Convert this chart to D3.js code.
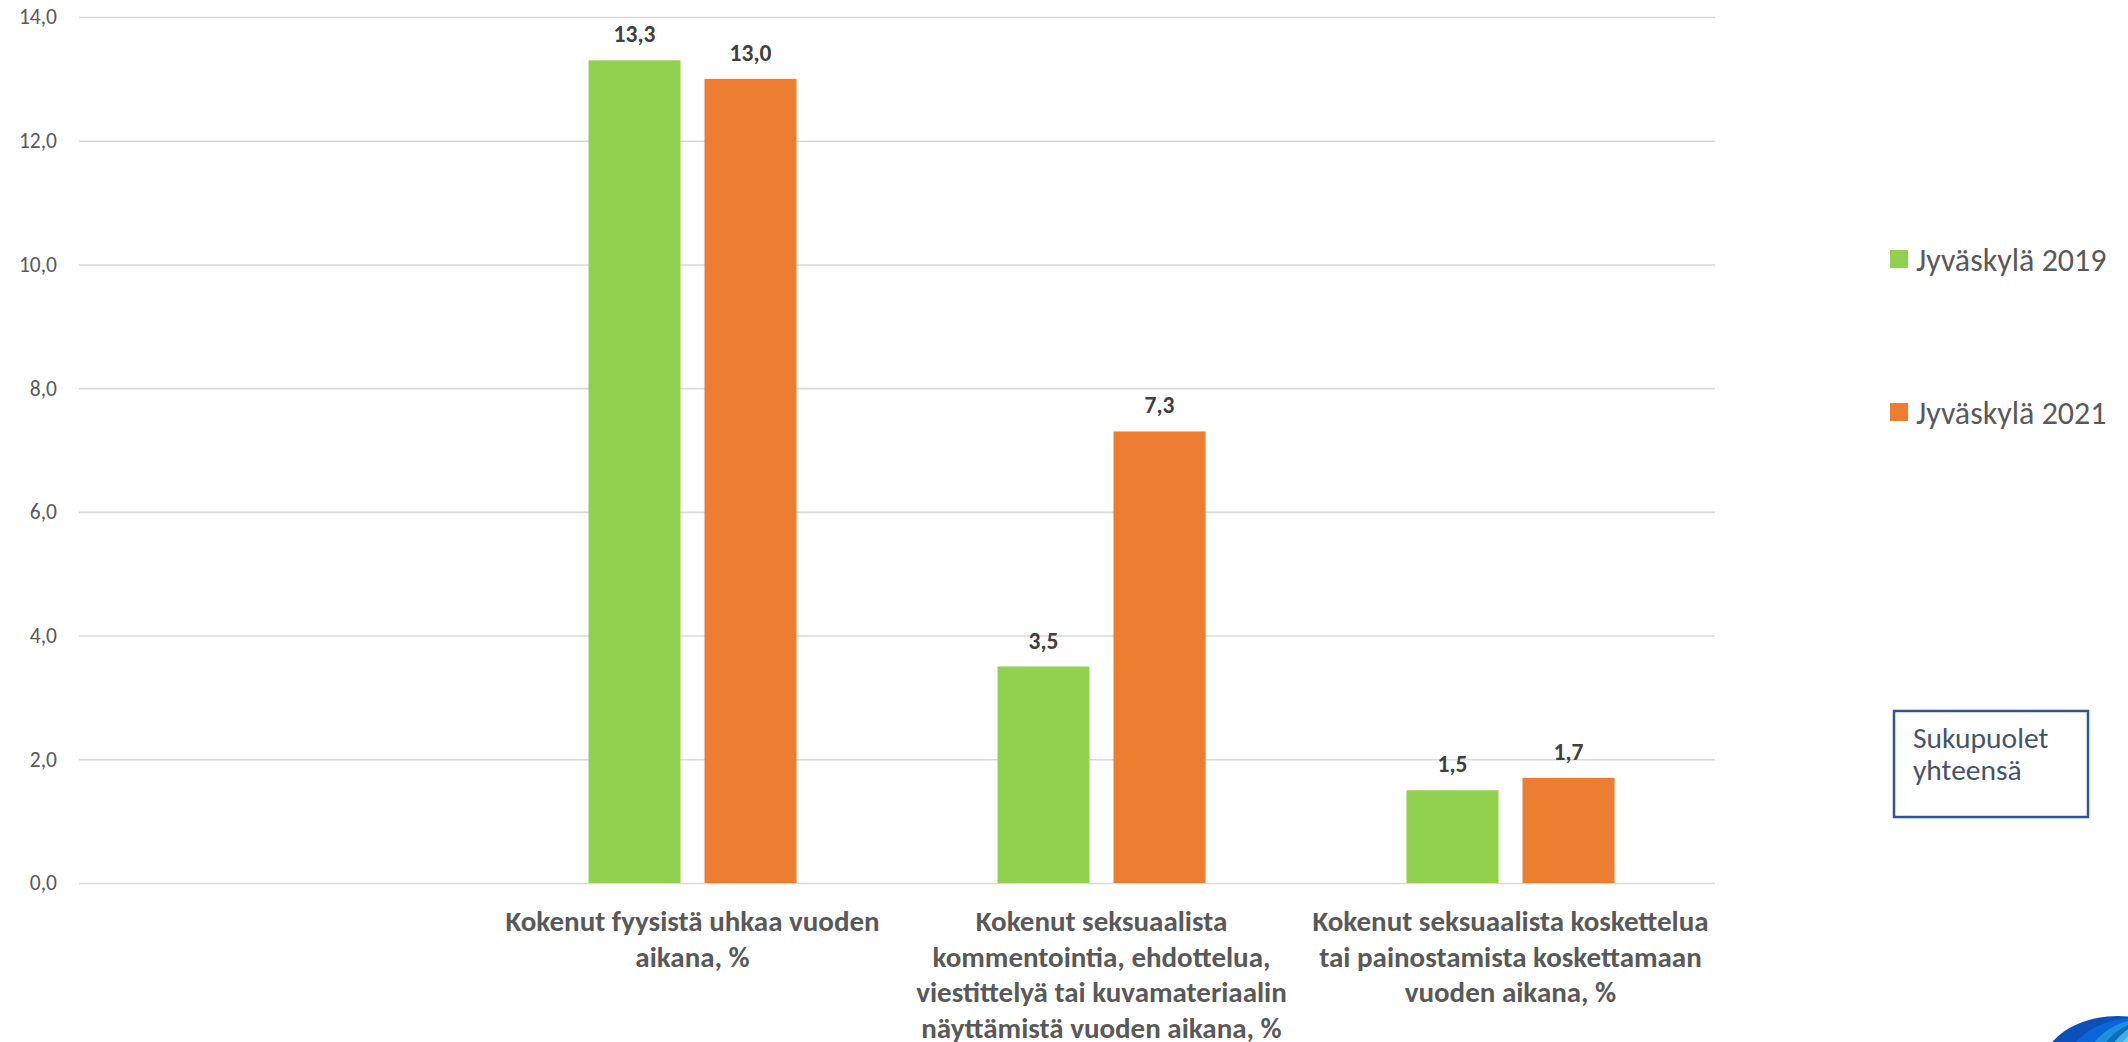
<!DOCTYPE html>
<html>
<head>
<meta charset="utf-8">
<script src="https://cdn.jsdelivr.net/npm/d3@7"></script>
<style>
  html, body { margin: 0; padding: 0; background: #ffffff; }
  svg { display: block; }
  text { font-family: Carlito, Calibri, Lato, "Open Sans", sans-serif; }
</style>
</head>
<body>
<svg id="chart" width="2128" height="1042"></svg>
<script>
// ---- data ----
const categories = [
  "",
  "Kokenut fyysistä uhkaa vuoden\naikana, %",
  "Kokenut seksuaalista\nkommentointia, ehdottelua,\nviestittelyä tai kuvamateriaalin\nnäyttämistä vuoden aikana, %",
  "Kokenut seksuaalista koskettelua\ntai painostamista koskettamaan\nvuoden aikana, %"
];
const seriesNames = ["Jyväskylä 2019", "Jyväskylä 2021"];
const values2019 = [null, 13.3, 3.5, 1.5];
const values2021 = [null, 13.0, 7.3, 1.7];
const yTicks = [0, 2, 4, 6, 8, 10, 12, 14];
const colors = ["#92D050", "#ED7D31"];
const noteLines = ["Sukupuolet", "yhteensä"];

const seriesValues = [values2019, values2021];

// ---- layout ----
const svg = d3.select("#chart");
const plot = { left: 79, right: 1715, top: 17, bottom: 883 };

const fi = d3.formatLocale({ decimal: ",", thousands: "\u00a0", grouping: [3], currency: ["", "\u00a0€"] });
const fmt = fi.format(".1f");

const y = d3.scaleLinear().domain([0, 14]).range([plot.bottom, plot.top]);
const x0 = d3.scaleBand().domain(d3.range(categories.length)).range([plot.left, plot.right]).paddingInner(0).paddingOuter(0);
const groupW = 208;
const x1 = d3.scaleBand().domain(d3.range(seriesNames.length))
  .range([(x0.bandwidth() - groupW) / 2, (x0.bandwidth() + groupW) / 2])
  .paddingInner(0.2069).paddingOuter(0);

// y axis + gridlines
const yAxis = d3.axisLeft(y)
  .tickValues(yTicks)
  .tickFormat(fmt)
  .tickSizeInner(-(plot.right - plot.left))
  .tickSizeOuter(0)
  .tickPadding(22);

const gy = svg.append("g")
  .attr("transform", `translate(${plot.left},0)`)
  .call(yAxis);
gy.select(".domain").remove();
gy.selectAll(".tick line").attr("stroke", "#d9d9d9").attr("stroke-width", 1.6);
gy.selectAll(".tick text")
  .attr("fill", "#595959")
  .style("font-size", "21.5px")
  .style("font-family", "Carlito, Calibri, Lato, sans-serif");

// bars
const groups = svg.append("g").selectAll("g.cat")
  .data(categories.map((c, i) => ({ c, i })))
  .join("g")
  .attr("class", "cat")
  .attr("transform", d => `translate(${x0(d.i)},0)`);

groups.selectAll("rect")
  .data(d => seriesValues.map((vals, s) => ({ s, v: vals[d.i] })).filter(e => e.v != null))
  .join("rect")
  .attr("x", e => x1(e.s))
  .attr("width", x1.bandwidth())
  .attr("y", e => y(e.v))
  .attr("height", e => y(0) - y(e.v))
  .attr("fill", e => colors[e.s]);

groups.selectAll("text.val")
  .data(d => seriesValues.map((vals, s) => ({ s, v: vals[d.i] })).filter(e => e.v != null))
  .join("text")
  .attr("class", "val")
  .attr("x", e => x1(e.s) + x1.bandwidth() / 2)
  .attr("y", e => y(e.v) - 18)
  .attr("text-anchor", "middle")
  .attr("fill", "#404040")
  .style("font-size", "23.5px")
  .style("font-weight", "bold")
  .text(e => fmt(e.v));

// category labels
const lineH = 35.5;
groups.append("text")
  .attr("class", "catlabel")
  .attr("text-anchor", "middle")
  .attr("fill", "#595959")
  .style("font-size", "29px")
  .style("font-weight", "bold")
  .each(function(d) {
    const lines = d.c ? d.c.split("\n") : [];
    d3.select(this).selectAll("tspan")
      .data(lines)
      .join("tspan")
      .attr("x", x0.bandwidth() / 2)
      .attr("y", (l, k) => 931 + k * lineH)
      .text(l => l);
  });

// legend
const legend = svg.append("g").attr("class", "legend");
const legendY = [259, 412];
seriesNames.forEach((name, s) => {
  legend.append("rect")
    .attr("x", 1890).attr("y", legendY[s] - 9)
    .attr("width", 18).attr("height", 18)
    .attr("fill", colors[s]);
  legend.append("text")
    .attr("x", 1916).attr("y", legendY[s])
    .attr("dy", "0.36em")
    .attr("fill", "#595959")
    .style("font-size", "32px")
    .text(name);
});

// note box
const note = svg.append("g").attr("class", "note");
note.append("rect")
  .attr("x", 1894).attr("y", 711)
  .attr("width", 194).attr("height", 106)
  .attr("fill", "#ffffff")
  .attr("stroke", "#2F5597")
  .attr("stroke-width", 2.5);
note.append("text")
  .attr("fill", "#44546A")
  .style("font-size", "29.5px")
  .selectAll("tspan")
  .data(noteLines)
  .join("tspan")
  .attr("x", 1913)
  .attr("y", (l, k) => 748 + k * 32)
  .text(l => l);

// partial logo at the bottom-right corner
const logo = svg.append("g").attr("class", "logo");
const defs = svg.append("defs");
defs.append("clipPath").attr("id", "logoClip")
  .append("ellipse").attr("cx", 2118).attr("cy", 1068).attr("rx", 76).attr("ry", 52);
const lg = logo.append("g").attr("clip-path", "url(#logoClip)");
lg.append("rect").attr("x", 2030).attr("y", 1010).attr("width", 100).attr("height", 40).attr("fill", "#0b4fb8");
lg.append("ellipse").attr("cx", 2135).attr("cy", 1070).attr("rx", 70).attr("ry", 52).attr("fill", "#0a66d6");
lg.append("ellipse").attr("cx", 2150).attr("cy", 1068).attr("rx", 65).attr("ry", 50).attr("fill", "#1d8fe0");
lg.append("ellipse").attr("cx", 2160).attr("cy", 1066).attr("rx", 62).attr("ry", 48).attr("fill", "#0b6fb8");
lg.append("ellipse").attr("cx", 2168).attr("cy", 1062).attr("rx", 60).attr("ry", 44).attr("fill", "#45aee0");
lg.append("ellipse").attr("cx", 2178).attr("cy", 1058).attr("rx", 60).attr("ry", 40).attr("fill", "#6ccbec");
</script>
</body>
</html>
